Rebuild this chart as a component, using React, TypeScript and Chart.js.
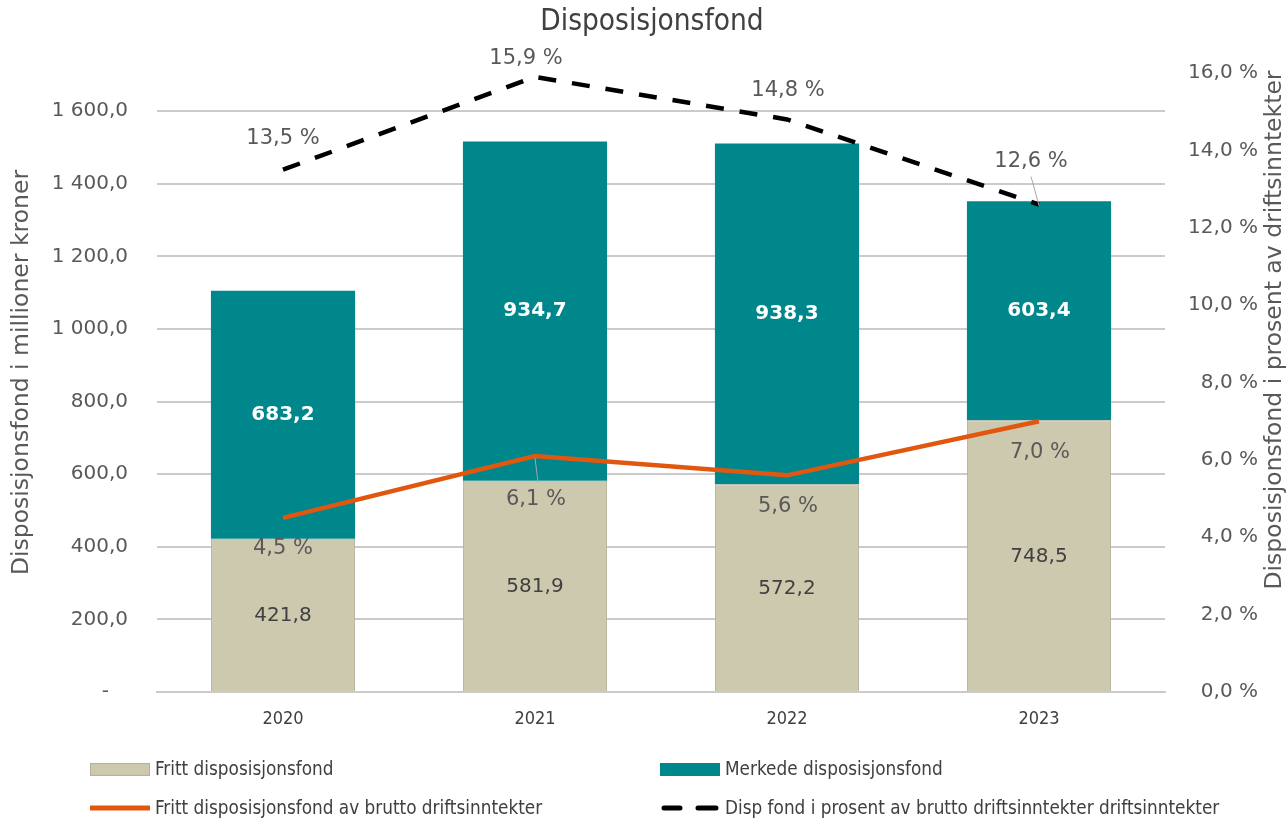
import React, { useEffect, useRef } from 'react';
import { Chart, registerables } from 'chart.js';

Chart.register(...registerables);

// ---------- data ----------
const categories = ['2020', '2021', '2022', '2023'];
const frittValues = [421.8, 581.9, 572.2, 748.5];
const merkedeValues = [683.2, 934.7, 938.3, 603.4];
const frittPercent = [4.5, 6.1, 5.6, 7.0];
const dispPercent = [13.5, 15.9, 14.8, 12.6];

const chartTitle = 'Disposisjonsfond';
const leftAxisTitle = 'Disposisjonsfond i millioner kroner';
const rightAxisTitle = 'Disposisjonsfond i prosent av driftsinntekter';
const legendLabels = [
  'Fritt disposisjonsfond',
  'Merkede disposisjonsfond',
  'Fritt disposisjonsfond av brutto driftsinntekter',
  'Disp fond i prosent av brutto driftsinntekter driftsinntekter',
];

const leftStep = 200;
const leftTickMax = 1600;
const leftMax = 1705;
const rightStep = 2;
const rightMax = 16;

// ---------- styles ----------
const BEIGE = '#CDC9AE';
const TEAL = '#00878B';
const ORANGE = '#E2570F';
const BLACK = '#000000';
const GRID = '#CBCBCB';
const TEXT = '#595959';
const DARK = '#404040';
const FONT = '"DejaVu Sans", Verdana, sans-serif';
const FONT_C = '"DejaVu Sans Condensed", "DejaVu Sans", sans-serif';

// label offsets (pixels) relative to the line point
const orangeLabelOffset = [[0, 31], [1, 44], [1, 31], [1, 31]];
const orangeLeader = [false, true, false, false];
const blackLabelOffset = [[0, -31], [-9, -18], [1, -29], [-8, -43]];
const blackLeader = [false, false, false, true];

const fmtComma = (v: number, d = 1) => v.toFixed(d).replace('.', ',');
const fmtThousands = (v: number) => {
  if (v === 0) return '-   ';
  const [i, dec] = v.toFixed(1).split('.');
  return i.replace(/\B(?=(\d{3})+(?!\d))/g, ' ') + ',' + dec;
};

const decorPlugin = {
  id: 'decor',
  afterDatasetsDraw(chart: any) {
    const ctx = chart.ctx;
    ctx.save();
    ctx.textAlign = 'center';
    ctx.textBaseline = 'middle';
    // bar labels
    const m0 = chart.getDatasetMeta(0);
    m0.data.forEach((el: any, i: number) => {
      const cy = (el.y + el.base) / 2;
      ctx.font = `20px ${FONT}`;
      ctx.fillStyle = DARK;
      ctx.fillText(fmtComma(frittValues[i]), el.x, cy + 1);
    });
    const m1 = chart.getDatasetMeta(1);
    m1.data.forEach((el: any, i: number) => {
      const cy = (el.y + el.base) / 2;
      ctx.font = `bold 20px ${FONT}`;
      ctx.fillStyle = '#FFFFFF';
      ctx.fillText(fmtComma(merkedeValues[i]), el.x, cy);
    });
    // line labels
    const drawLineLabels = (idx: number, vals: number[], off: number[][], leader: boolean[], below: boolean) => {
      const meta = chart.getDatasetMeta(idx);
      meta.data.forEach((el: any, i: number) => {
        const lx = el.x + off[i][0];
        const ly = el.y + off[i][1];
        if (leader[i]) {
          ctx.strokeStyle = '#A6A6A6';
          ctx.lineWidth = 1;
          ctx.beginPath();
          if (below) {
            ctx.moveTo(el.x, el.y + 2);
            ctx.lineTo(lx + 2, ly - 18);
          } else {
            ctx.moveTo(lx, ly + 15);
            ctx.lineTo(el.x, el.y + 1);
          }
          ctx.stroke();
        }
        ctx.font = `21px ${FONT}`;
        ctx.fillStyle = TEXT;
        ctx.fillText(fmtComma(vals[i]) + ' %', lx, ly);
      });
    };
    drawLineLabels(2, frittPercent, orangeLabelOffset, orangeLeader, true);
    drawLineLabels(3, dispPercent, blackLabelOffset, blackLeader, false);
    ctx.restore();
  },
  afterDraw(chart: any) {
    const ctx = chart.ctx;
    const area = chart.chartArea;
    ctx.save();
    // title
    ctx.textAlign = 'center';
    ctx.textBaseline = 'middle';
    ctx.fillStyle = DARK;
    ctx.font = `29.5px ${FONT_C}`;
    ctx.fillText(chartTitle, 652, 22);
    // axis titles
    ctx.font = `23.5px ${FONT}`;
    ctx.fillStyle = TEXT;
    ctx.save();
    ctx.translate(22, (area.top + area.bottom) / 2 - 10);
    ctx.rotate(-Math.PI / 2);
    ctx.fillText(leftAxisTitle, 0, 0);
    ctx.restore();
    ctx.save();
    ctx.translate(1275, 330);
    ctx.rotate(-Math.PI / 2);
    ctx.fillText(rightAxisTitle, 0, 0);
    ctx.restore();
    // legend
    ctx.textAlign = 'left';
    ctx.font = `18.8px ${FONT_C}`;
    const rows = [769, 808];
    const cols = [90, 660];
    [0, 1, 2, 3].forEach((k) => {
      const x = cols[k % 2];
      const y = rows[Math.floor(k / 2)];
      if (k === 0 || k === 1) {
        ctx.fillStyle = k === 0 ? BEIGE : TEAL;
        ctx.fillRect(x, y - 6, 60, 13);
        if (k === 0) {
          ctx.strokeStyle = '#B5B29C';
          ctx.lineWidth = 1;
          ctx.strokeRect(x + 0.5, y - 5.5, 59, 12);
        }
      } else if (k === 2) {
        ctx.strokeStyle = ORANGE;
        ctx.lineWidth = 5;
        ctx.beginPath();
        ctx.moveTo(x, y);
        ctx.lineTo(x + 60, y);
        ctx.stroke();
      } else {
        ctx.strokeStyle = BLACK;
        ctx.lineWidth = 5;
        ctx.lineCap = 'round';
        ctx.beginPath();
        ctx.moveTo(x + 4, y);
        ctx.lineTo(x + 20, y);
        ctx.moveTo(x + 38, y);
        ctx.lineTo(x + 56, y);
        ctx.stroke();
        ctx.lineCap = 'butt';
      }
      ctx.fillStyle = DARK;
      ctx.fillText(legendLabels[k], x + 65, y + 1);
    });
    ctx.restore();
  },
};

export default function App() {
  const ref = useRef<HTMLCanvasElement | null>(null);
  useEffect(() => {
    document.body.style.margin = '0';
    const canvas = ref.current;
    if (!canvas) return;
    const chart = new Chart(canvas, {
      type: 'bar',
      data: {
        labels: categories,
        datasets: [
          {
            type: 'bar',
            label: legendLabels[0],
            data: frittValues,
            backgroundColor: BEIGE,
            borderColor: '#B5B29C',
            borderWidth: 1,
            yAxisID: 'y',
            stack: 's',
            order: 3,
            barPercentage: 0.572,
            categoryPercentage: 1,
          },
          {
            type: 'bar',
            label: legendLabels[1],
            data: merkedeValues,
            backgroundColor: TEAL,
            borderWidth: 0,
            yAxisID: 'y',
            stack: 's',
            order: 3,
            barPercentage: 0.572,
            categoryPercentage: 1,
          },
          {
            type: 'line',
            label: legendLabels[2],
            data: frittPercent,
            borderColor: ORANGE,
            borderWidth: 4.5,
            pointRadius: 0,
            yAxisID: 'y1',
            order: 1,
            tension: 0,
          },
          {
            type: 'line',
            label: legendLabels[3],
            data: dispPercent,
            borderColor: BLACK,
            borderWidth: 4.5,
            borderDash: [18, 16],
            pointRadius: 0,
            yAxisID: 'y1',
            order: 0,
            tension: 0,
          },
        ],
      } as any,
      options: {
        responsive: false,
        animation: false,
        layout: { padding: { top: 73, left: 0, right: 30, bottom: 0 } },
        plugins: {
          legend: { display: false },
          title: { display: false },
          tooltip: { enabled: false },
        },
        scales: {
          x: {
            stacked: true,
            offset: true,
            grid: { display: false, drawTicks: false },
            border: { display: true, color: GRID, width: 2 },
            ticks: { color: DARK, font: { family: FONT_C, size: 18 }, padding: 17 },
            afterFit: (s: any) => { s.height = 130; },
          },
          y: {
            stacked: true,
            position: 'left',
            min: 0,
            max: leftMax,
            bounds: 'data',
            grid: { color: GRID, lineWidth: 2, drawTicks: false },
            border: { display: false },
            ticks: {
              stepSize: leftStep,
              color: TEXT,
              font: { family: FONT, size: 20 },
              padding: 29,
              callback: (v: any) => fmtThousands(Number(v)),
            },
            afterBuildTicks: (s: any) => {
              s.ticks = s.ticks.filter((t: any) => t.value <= leftTickMax);
            },
            afterFit: (s: any) => { s.width = 157; },
          },
          y1: {
            position: 'right',
            min: 0,
            max: rightMax,
            grid: { display: false, drawTicks: false },
            border: { display: false },
            ticks: {
              stepSize: rightStep,
              color: TEXT,
              font: { family: FONT, size: 20 },
              padding: 20,
              crossAlign: 'far',
              callback: (v: any) => fmtComma(Number(v)) + ' %',
            },
            afterFit: (s: any) => { s.width = 93; },
          },
        },
      } as any,
      plugins: [decorPlugin],
    });
    return () => chart.destroy();
  }, []);
  return (
    <div style={{ width: 1288, height: 822, background: '#fff' }}>
      <canvas ref={ref} width={1288} height={822} style={{ display: 'block' }} />
    </div>
  );
}
